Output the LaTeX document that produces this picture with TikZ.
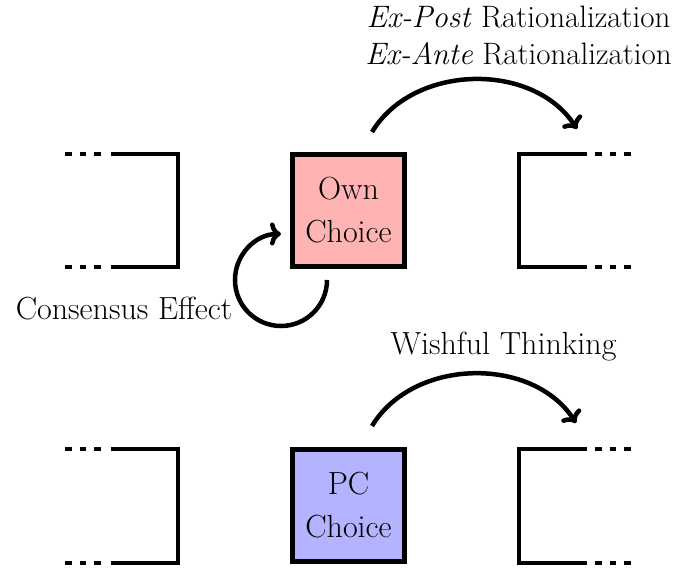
\documentclass[tikz,border=0pt]{standalone}
\usetikzlibrary{arrows.meta}
\definecolor{ownfill}{HTML}{FFB3B3}
\definecolor{pcfill}{HTML}{B3B3FF}
\begin{document}
\begin{tikzpicture}[x=1pt,y=1pt,
  choicebox/.style={draw=black,line width=4.5pt,minimum width=112pt,minimum height=112pt,inner sep=0pt,align=center,font=\fontsize{32}{43}\selectfont},
  bracketline/.style={line width=4.5pt,line cap=butt,line join=miter},
  dotline/.style={line width=4.5pt,line cap=butt,dash pattern=on 6.5pt off 8pt},
  arrowline/.style={line width=4.5pt,-{To[length=11pt,width=23pt]}},
  lbl/.style={font=\fontsize{32}{37}\selectfont,align=center,inner sep=0pt}]
\useasboundingbox (0,0) rectangle (673,-569);
% rows
\foreach \yy/\yb in {-154/-267,-449/-563}{
  \draw[bracketline] (111,\yy) -- (178,\yy) -- (178,\yb) -- (111,\yb);
  \draw[dotline] (65,\yy) -- (102,\yy);
  \draw[dotline] (65,\yb) -- (102,\yb);
  \draw[bracketline] (587,\yy) -- (519,\yy) -- (519,\yb) -- (587,\yb);
  \draw[dotline] (595,\yy) -- (632,\yy);
  \draw[dotline] (595,\yb) -- (632,\yb);
}
\node[choicebox,fill=ownfill] (own) at (348.5,-210.5) {Own\\Choice};
\node[choicebox,fill=pcfill] (pc) at (348.5,-505.5) {PC\\Choice};
% arrows
\coordinate (a1s) at (372,-132);
\coordinate (a1e) at (577,-129);
\coordinate (a2s) at (372,-426);
\coordinate (a2e) at (576,-423);
\coordinate (loops) at (327,-280);
\draw[arrowline] (a1s) to[bend left=58] (a1e);
\draw[arrowline] (a2s) to[bend left=58] (a2e);
\draw[arrowline] (loops) arc[start angle=0,end angle=-270,radius=46];
% labels
\node[lbl,anchor=base,font=\fontsize{31}{37}\selectfont] (lblpost) at (518.5,-28) {\textit{Ex-Post} Rationalization};
\node[lbl,anchor=base,font=\fontsize{31}{37}\selectfont] (lblante) at (518.5,-65) {\textit{Ex-Ante} Rationalization};
\node[lbl,anchor=base] (lblcons) at (124,-320) {Consensus Effect};
\node[lbl,anchor=base] (lblwish) at (503.5,-355) {Wishful Thinking};
\end{tikzpicture}
\end{document}
